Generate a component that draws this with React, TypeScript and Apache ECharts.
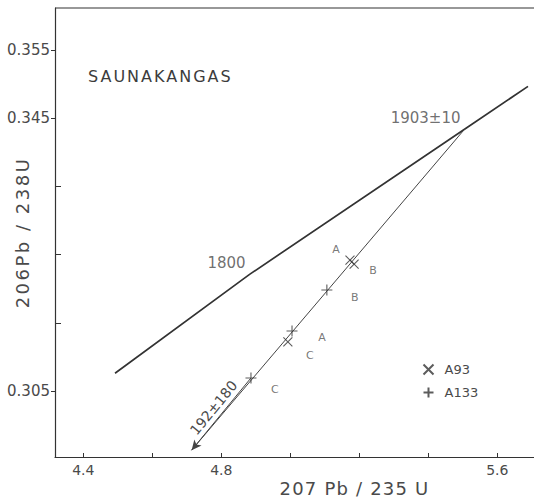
import React, { useEffect, useRef } from "react";
import * as echarts from "echarts";

// Concordia segment (207Pb/235U, 206Pb/238U) with the two dated points on it
const CONCORDIA_X = [4.492, 4.882, 5.505, 5.689];
const CONCORDIA_Y = [0.3076, 0.3221, 0.3434, 0.3497];
const CONCORDIA_AGES = ["", "1800", "1903±10", ""];

// Discordia: upper intercept down to the lower-intercept arrow
const DISCORDIA_X = [5.505, 4.714];
const DISCORDIA_Y = [0.3434, 0.2963];
const LOWER_INTERCEPT = "192±180";

// Zircon fractions
const A93_X = [5.173, 5.185, 4.993];
const A93_Y = [0.3242, 0.3236, 0.3122];
const A93_FRACTIONS = ["A", "B", "C"];

const A133_X = [5.005, 5.106, 4.886];
const A133_Y = [0.3138, 0.3198, 0.3069];
const A133_FRACTIONS = ["A", "B", "C"];

// Axis ticks
const X_TICKS = [4.4, 4.6, 4.8, 5.0, 5.2, 5.4, 5.6];
const X_TICK_LABELS = [4.4, 4.8, 5.6];
const Y_TICK_LABELS = [0.305, 0.345, 0.355];
const Y_MINOR_TICKS = [0.315, 0.325, 0.335];

// label placement for the fraction letters (pixels from the marker)
const A93_LABEL_OFFSETS = [[-14, -11], [19, 6], [22, 14]];
const A133_LABEL_OFFSETS = [[30, 7], [28, 7], [24, 12]];

const INK = "#333";
const TEXT = "#4a4a4a";
const FONT = "DejaVu Sans";

const CROSS = "path://M0,0L10,10M0,10L10,0";
const PLUS = "path://M5,0L5,10M0,5L10,5";

// plot frame runs just past the right edge of the page
const X_MIN = 4.318;
const X_MAX = 5.7122;
const Y_MIN = 0.2953;
const Y_MAX = 0.3612;

const GRID = { left: 55, right: -2, top: 8, bottom: 44 };

export default function App() {
  const ref = useRef<HTMLDivElement>(null);

  useEffect(() => {
    if (!ref.current) return;
    const chart = echarts.init(ref.current, undefined, { renderer: "svg" });

    const pts = (xs: number[], ys: number[], names: string[], offs: number[][]) =>
      xs.map((x, i) => ({
        value: [x, ys[i]],
        name: names[i],
        label: { offset: offs[i] },
      }));

    const ageData = CONCORDIA_X.map((x, i) => ({
      value: [x, CONCORDIA_Y[i]],
      name: CONCORDIA_AGES[i],
    })).filter((d) => d.name !== "");

    const lowIdx = A133_Y.indexOf(Math.min(...A133_Y));

    chart.setOption({
      animation: false,
      backgroundColor: "#fff",
      textStyle: { fontFamily: FONT },
      title: {
        text: "SAUNAKANGAS",
        left: 83,
        top: 63,
        textStyle: { fontFamily: FONT, fontSize: 16, fontWeight: "normal", color: "#3c3c3c" },
      },
      legend: {
        orient: "vertical",
        left: 416,
        top: 357,
        itemWidth: 22,
        itemHeight: 10,
        itemGap: 8,
        data: ["A93", "A133"],
        textStyle: { fontFamily: FONT, fontSize: 13, color: TEXT },
      },
      // upper frame line of the plot
      graphic: [
        {
          type: "line",
          silent: true,
          z: 10,
          shape: { x1: GRID.left, y1: GRID.top, x2: 534, y2: GRID.top },
          style: { stroke: INK, lineWidth: 1.2 },
        },
      ],
      grid: {
        ...GRID,
        containLabel: false,
        outerBoundsMode: "none",
      },
      xAxis: {
        type: "value",
        min: X_MIN,
        max: X_MAX,
        position: "bottom",
        splitLine: { show: false },
        axisLine: { show: true, onZero: false, lineStyle: { color: INK, width: 1.2 } },
        name: "207 Pb / 235 U",
        nameLocation: "middle",
        nameGap: 22,
        nameMoveOverlap: false,
        nameTextStyle: { fontFamily: FONT, fontSize: 18, color: TEXT, padding: [0, 0, 0, 118] },
        axisTick: { show: true, inside: true, length: 4, customValues: X_TICKS, lineStyle: { color: INK } },
        axisLabel: {
          show: true,
          customValues: X_TICK_LABELS,
          margin: 6,
          fontFamily: FONT,
          fontSize: 14,
          color: TEXT,
        },
      },
      yAxis: [
        {
          type: "value",
          min: Y_MIN,
          max: Y_MAX,
          position: "left",
          splitLine: { show: false },
          name: "206Pb / 238U",
          nameLocation: "middle",
          nameGap: 24,
          nameMoveOverlap: false,
          nameTextStyle: { fontFamily: FONT, fontSize: 18, color: TEXT },
          axisLine: { show: true, onZero: false, lineStyle: { color: INK, width: 1.2 } },
          axisTick: { show: true, inside: false, length: 4, customValues: Y_TICK_LABELS, lineStyle: { color: INK } },
          axisLabel: {
            show: true,
            customValues: Y_TICK_LABELS,
            margin: 5,
            fontFamily: FONT,
            fontSize: 15,
            color: TEXT,
          },
        },
        {
          type: "value",
          min: Y_MIN,
          max: Y_MAX,
          position: "left",
          splitLine: { show: false },
          axisLine: { show: false },
          axisTick: { show: true, inside: true, length: 6, customValues: Y_MINOR_TICKS, lineStyle: { color: INK } },
          axisLabel: { show: false },
        },
      ],
      series: [
        {
          name: "concordia",
          type: "line",
          data: CONCORDIA_X.map((x, i) => [x, CONCORDIA_Y[i]]),
          symbol: "none",
          silent: true,
          lineStyle: { color: INK, width: 1.7 },
          z: 2,
        },
        {
          name: "discordia",
          type: "line",
          data: DISCORDIA_X.map((x, i) => [x, DISCORDIA_Y[i]]),
          symbol: "none",
          silent: true,
          lineStyle: { color: "#444", width: 1 },
          markLine: {
            silent: true,
            symbol: ["none", "arrow"],
            symbolSize: [7, 10],
            lineStyle: { color: "#444", width: 1, type: "solid" },
            label: {
              show: true,
              position: "middle",
              distance: 3,
              formatter: LOWER_INTERCEPT,
              fontFamily: FONT,
              fontSize: 14,
              color: TEXT,
            },
            data: [
              [
                { coord: [A133_X[lowIdx], A133_Y[lowIdx]] },
                { coord: [DISCORDIA_X[1], DISCORDIA_Y[1]] },
              ],
            ],
          },
          z: 2,
        },
        {
          name: "A93",
          type: "scatter",
          symbol: CROSS,
          symbolSize: 9,
          itemStyle: { color: "none", borderColor: INK, borderWidth: 1.1 },
          label: {
            show: true,
            position: "inside",
            formatter: "{b}",
            fontFamily: FONT,
            fontSize: 11,
            color: "#555",
          },
          data: pts(A93_X, A93_Y, A93_FRACTIONS, A93_LABEL_OFFSETS),
          z: 3,
        },
        {
          name: "A133",
          type: "scatter",
          symbol: PLUS,
          symbolSize: 11,
          itemStyle: { color: "none", borderColor: INK, borderWidth: 1.1 },
          label: {
            show: true,
            position: "inside",
            formatter: "{b}",
            fontFamily: FONT,
            fontSize: 11,
            color: "#555",
          },
          data: pts(A133_X, A133_Y, A133_FRACTIONS, A133_LABEL_OFFSETS),
          z: 3,
        },
        {
          name: "ages",
          type: "scatter",
          symbolSize: 0,
          silent: true,
          label: {
            show: true,
            position: "left",
            distance: 4,
            offset: [0, -11],
            formatter: "{b}",
            fontFamily: FONT,
            fontSize: 15,
            color: TEXT,
          },
          data: ageData,
          z: 4,
        },
      ],
    });

    // widen the tracking of the title and axis names
    const spacing: Record<string, string> = {
      SAUNAKANGAS: "2",
      "207 Pb / 235 U": "1.2",
      "206Pb / 238U": "2.5",
    };
    ref.current.querySelectorAll("text").forEach((t) => {
      const s = spacing[t.textContent || ""];
      if (s) t.setAttribute("letter-spacing", s);
    });

    return () => chart.dispose();
  }, []);

  return (
    <div
      ref={ref}
      style={{ position: "absolute", left: 0, top: 0, width: 534, height: 501 }}
    />
  );
}
